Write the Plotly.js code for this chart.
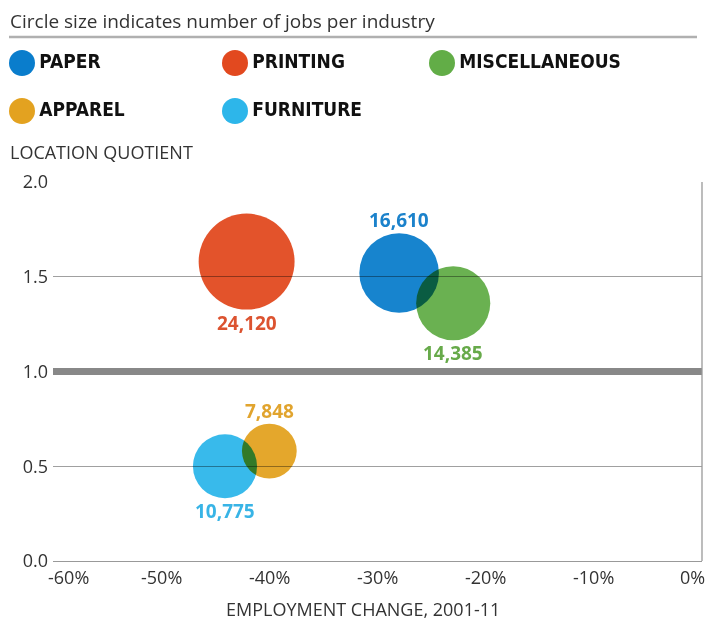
<!DOCTYPE html>
<html>
<head>
<meta charset="utf-8">
<script src="https://cdn.plot.ly/plotly-3.0.1.min.js"></script>
<style>
  body { margin: 0; background: #fff; }
  #chart { width: 707px; height: 620px; }
  /* bubbles blend like ink, so overlaps and gridlines show through */
  .bubbles .point { mix-blend-mode: multiply; }
</style>
</head>
<body>
<div id="chart"></div>
<script>
var chartDiv = document.getElementById('chart');

// Data
var industries = ['PAPER', 'PRINTING', 'MISCELLANEOUS', 'APPAREL', 'FURNITURE'];
var empChange = [-28.0, -42.1, -23.0, -40.0, -44.1];   // % change 2001-11
var locQuotient = [1.52, 1.58, 1.36, 0.58, 0.50];
var jobs = [16610, 24120, 14385, 7848, 10775];
var xTicks = [-60, -50, -40, -30, -20, -10, 0];
var yTicks = [0, 0.5, 1.0, 1.5, 2.0];
var baseline = 1.0;

// Styling
var bubbleColors = ['#0a7dcc', '#e2491f', '#62ad47', '#e3a220', '#2db6ea'];
var labelColors = ['#1b82cb', '#dc5330', '#67aa4a', '#e1a42e', '#38b4e6'];
var labelSide = [1, -1, -1, 1, -1];   // 1 = above the bubble, -1 = below
var W = 707, H = 620;
var plotL = 53, plotR = 702, plotT = 182, plotB = 561;
var legendCols = [22, 235, 442];
var legendRows = [63, 111];
var sizeRef = 5.24;
var textCol = '#333333';
var mainFont = 'Open Sans, sans-serif';
var boldFont = 'Liberation Sans Narrow, DejaVu Sans Condensed, Arial Narrow, sans-serif';

function px(x) { return x / W; }
function py(y) { return 1 - y / H; }
// drawn radius of an area-mode marker
function radius(v) { return Math.sqrt(2 * v / sizeRef) / 2; }

// main bubbles: area proportional to jobs
var bubbles = {
  type: 'scatter',
  mode: 'markers',
  x: empChange,
  y: locQuotient,
  marker: {
    size: jobs,
    sizemode: 'area',
    sizeref: sizeRef,
    color: bubbleColors,
    opacity: 0.95,
    line: { width: 0 }
  },
  cliponaxis: false,
  hoverinfo: 'skip',
  showlegend: false
};

// custom legend drawn on a pixel-space helper axis
var legend = {
  type: 'scatter',
  mode: 'markers+text',
  xaxis: 'x2',
  yaxis: 'y2',
  x: industries.map(function (d, i) { return legendCols[i % 3]; }),
  y: industries.map(function (d, i) { return legendRows[Math.floor(i / 3)]; }),
  text: industries,
  textposition: 'middle right',
  textfont: { family: boldFont, size: 19, weight: 700, color: '#111' },
  marker: { size: 26, color: bubbleColors, line: { width: 0 } },
  cliponaxis: false,
  hoverinfo: 'skip',
  showlegend: false
};

var annotations = [
  { text: 'Circle size indicates number of jobs per industry', xref: 'paper', yref: 'paper',
    x: px(8), y: py(21), xanchor: 'left', yanchor: 'middle', showarrow: false,
    font: { family: mainFont, size: 19, color: textCol } },
  { text: 'LOCATION QUOTIENT', xref: 'paper', yref: 'paper',
    x: px(8), y: py(152), xanchor: 'left', yanchor: 'middle', showarrow: false,
    font: { family: mainFont, size: 18, color: textCol } },
  { text: 'EMPLOYMENT CHANGE, 2001-11', xref: 'paper', yref: 'paper',
    x: px(363), y: py(609), xanchor: 'center', yanchor: 'middle', showarrow: false,
    font: { family: mainFont, size: 18, color: textCol } }
];

// job counts next to each bubble
jobs.forEach(function (v, i) {
  annotations.push({
    text: v.toLocaleString('en-US'), xref: 'x', yref: 'y', x: empChange[i], y: locQuotient[i],
    yshift: labelSide[i] * (radius(v) + 13), xanchor: 'center', yanchor: 'middle', showarrow: false,
    font: { family: mainFont, size: 19, weight: 700, color: labelColors[i] }
  });
});

// x tick labels as annotations so the end labels can stay inside the frame
xTicks.forEach(function (v, i) {
  var shift = 0;
  if (i === 0) shift = 15;
  if (i === xTicks.length - 1) shift = -10;
  annotations.push({
    text: v + '%', xref: 'x', yref: 'paper', x: v, y: py(577),
    xanchor: 'center', yanchor: 'middle', xshift: shift, showarrow: false,
    font: { family: mainFont, size: 18, color: textCol }
  });
});

var shapes = [
  // rule under the heading
  { type: 'line', xref: 'paper', yref: 'paper', x0: px(9), x1: px(697), y0: py(37), y1: py(37),
    line: { color: '#b0b0b0', width: 2.5 } },
  // heavy line at location quotient 1.0
  { type: 'line', xref: 'x domain', yref: 'y', x0: 0, x1: 1, y0: baseline, y1: baseline,
    line: { color: '#888888', width: 7 }, layer: 'above' },
  // right frame
  { type: 'line', xref: 'x domain', yref: 'y domain', x0: 1, x1: 1, y0: 0, y1: 1,
    line: { color: '#999999', width: 1.3 }, layer: 'above' }
];

var layout = {
  width: W,
  height: H,
  margin: { l: 0, r: 0, t: 0, b: 0 },
  paper_bgcolor: '#fff',
  plot_bgcolor: 'rgba(0,0,0,0)',
  showlegend: false,
  hovermode: false,
  xaxis: {
    domain: [px(plotL), px(plotR)],
    range: [-60, 0],
    showgrid: false,
    zeroline: false,
    showline: true,
    linecolor: '#999999',
    linewidth: 1.3,
    ticks: '',
    showticklabels: false,
    fixedrange: true
  },
  yaxis: {
    domain: [py(plotB), py(plotT)],
    range: [0, 2],
    tickvals: yTicks,
    tickformat: '.1f',
    showgrid: true,
    gridcolor: '#a0a0a0',
    gridwidth: 1.3,
    zeroline: false,
    showline: false,
    ticks: '',
    ticklabelstandoff: 4,
    tickfont: { family: mainFont, size: 18, color: textCol },
    fixedrange: true
  },
  xaxis2: { domain: [0, 1], range: [0, W], visible: false, anchor: 'y2', fixedrange: true },
  yaxis2: { domain: [0, 1], range: [H, 0], visible: false, anchor: 'x2', fixedrange: true },
  annotations: annotations,
  shapes: shapes
};

Plotly.newPlot(chartDiv, [bubbles, legend], layout, { displayModeBar: false, staticPlot: true })
  .then(function () {
    var layers = chartDiv.querySelectorAll('.scatterlayer .trace');
    if (layers[0]) layers[0].classList.add('bubbles');
  });
</script>
</body>
</html>
